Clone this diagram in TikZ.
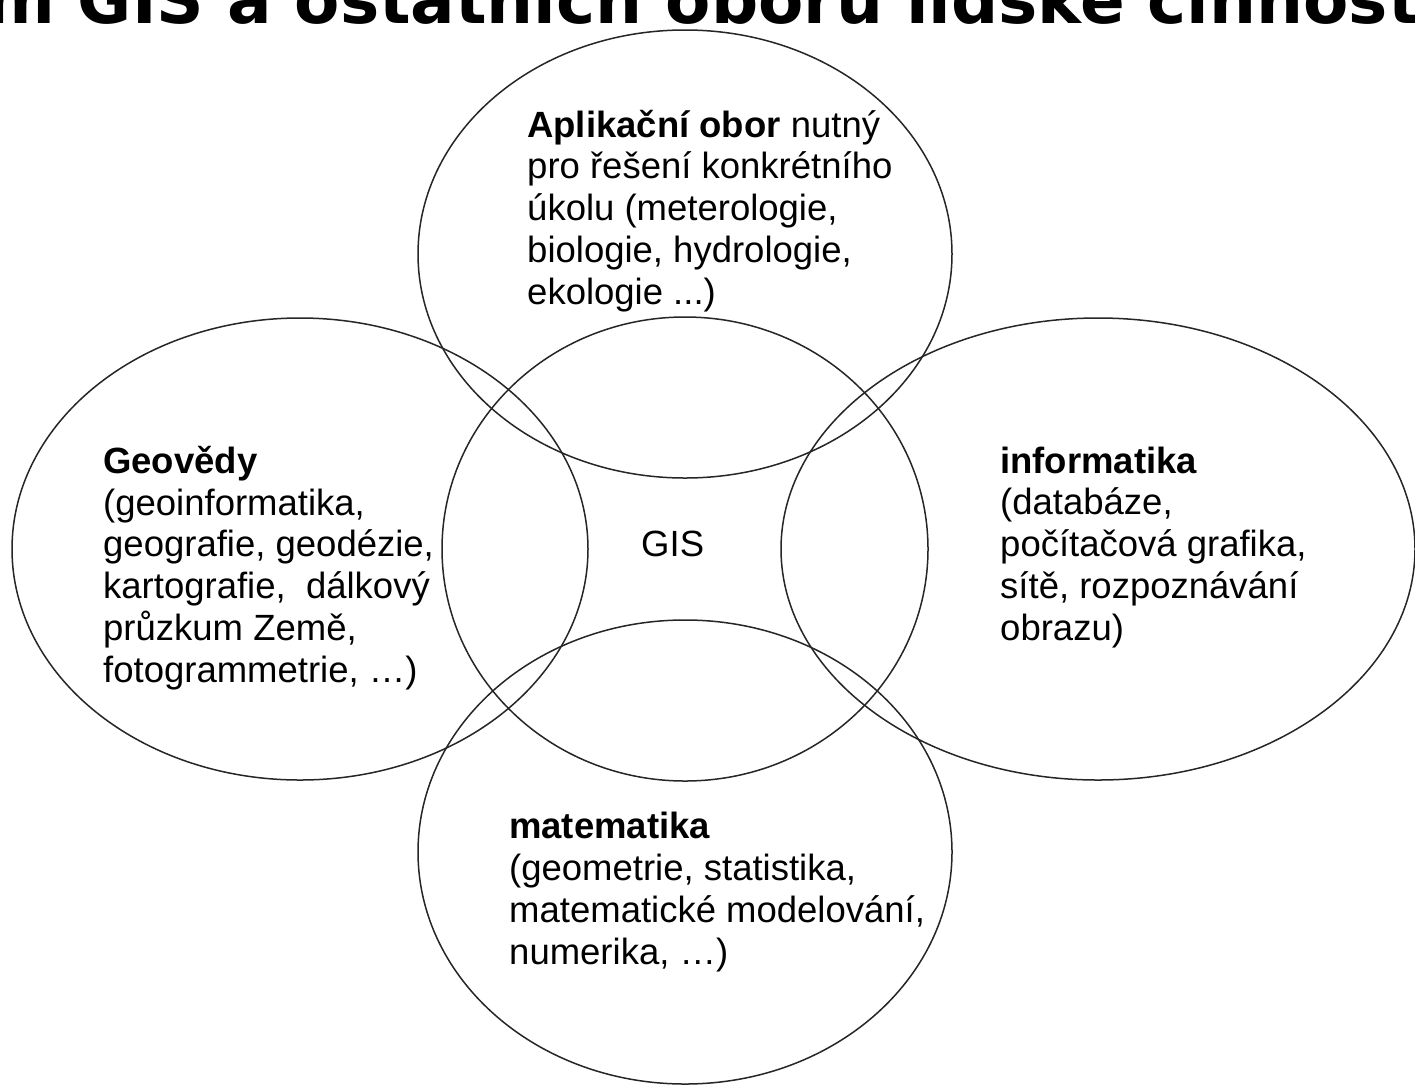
\documentclass[tikz,border=0pt]{standalone}
\usepackage{fontspec}
\setmainfont{Liberation Sans}
\newfontfamily\titlefont{DejaVu Sans}
\begin{document}
\begin{tikzpicture}[x=1pt,y=-1pt,
  ring/.style={draw=black!85,line width=1.5pt},
  lbl/.style={anchor=base west,inner sep=0pt,align=left,font=\fontsize{36.5}{41.7}\selectfont},
]
\useasboundingbox (0,0) rectangle (1415,1085);
\clip (0,0) rectangle (1415,1085);
\fill[white] (0,0) rectangle (1415,1085);
% title (only its lower part is visible)
\node[anchor=base west,inner sep=0pt,font=\titlefont\bfseries\fontsize{66}{72}\selectfont] (title) at (-14,23) {m GIS a ostatních oborů lidské činnosti};
% rings
\draw[ring] (685,254) ellipse [x radius=267,y radius=224];
\draw[ring] (300,549) ellipse [x radius=288,y radius=231];
\draw[ring] (685,549) ellipse [x radius=243,y radius=232];
\draw[ring] (1098,549) ellipse [x radius=317,y radius=231];
\draw[ring] (685,852) ellipse [x radius=267,y radius=232];
% labels (anchored at the baseline of their last line)
\node[lbl] (apl) at (527,304) {\textbf{Aplikační obor} nutný\\pro řešení konkrétního\\úkolu (meterologie,\\biologie, hydrologie,\\ekologie ...)};
\node[lbl] (geo) at (103,682) {\textbf{Geovědy}\\(geoinformatika,\\geografie, geodézie,\\kartografie,\ \ dálkový\\průzkum Země,\\fotogrammetrie, …)};
\node[lbl] (inf) at (1000,640) {\textbf{informatika}\\(databáze,\\počítačová grafika,\\sítě, rozpoznávání\\obrazu)};
\node[lbl] (mat) at (509,964) {\textbf{matematika}\\(geometrie, statistika,\\matematické modelování,\\numerika, …)};
\node[lbl] (gis) at (641,556) {GIS};
\end{tikzpicture}
\end{document}
